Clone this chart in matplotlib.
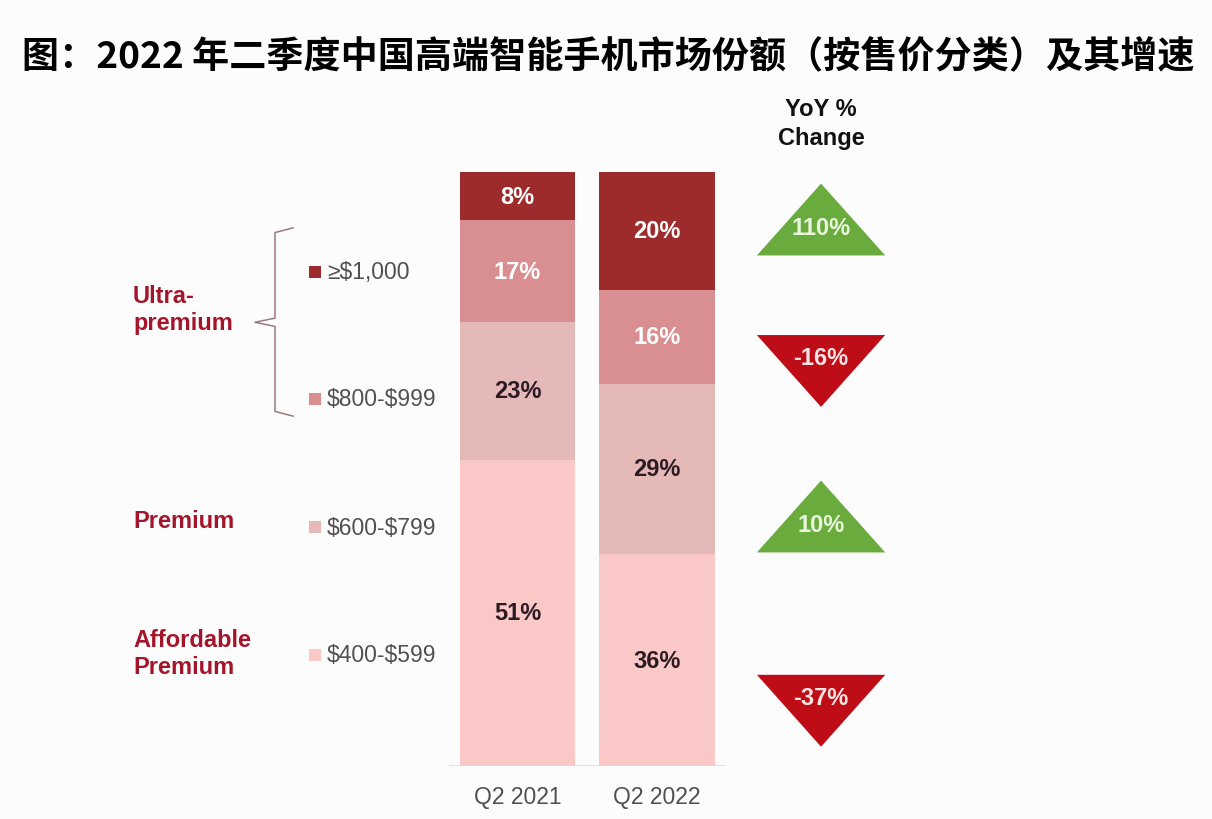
import numpy as np
import matplotlib
matplotlib.use("Agg")
import matplotlib.pyplot as plt
from matplotlib.patches import Polygon

plt.rcParams['font.family'] = ['Liberation Sans', 'Noto Sans CJK SC', 'DejaVu Sans']
plt.rcParams['text.parse_math'] = False

# -------------------------------
# 数据
# -------------------------------
title = "图：2022 年二季度中国高端智能手机市场份额（按售价分类）及其增速"
periods = ["Q2 2021", "Q2 2022"]
price_bands = ["$400-$599", "$600-$799", "$800-$999", "≥$1,000"]   # 自下而上
share_2021 = [51, 23, 17, 8]
share_2022 = [36, 29, 16, 20]
yoy_change = [-37, 10, -16, 110]   # 与 price_bands 顺序一致
groups = ["Affordable\nPremium", "Premium", "Ultra-\npremium"]

band_colors = ["#f9c8c7", "#e6b9b9", "#d98f91", "#9e2b2c"]
label_colors = ["#2b1a22", "#2b1a22", "white", "white"]
RED_TXT = "#a3152a"
GRAY_TXT = "#505050"
UP_COLOR = "#6aab3e"
DOWN_COLOR = "#bf0d17"

# -------------------------------
# 画布与坐标 (x: 每列 1 个单位, y: 百分比)
# -------------------------------
W, H = 1212, 820
fig = plt.figure(figsize=(W / 100, H / 100), dpi=100)
fig.patch.set_facecolor("#fcfcfd")
ax = fig.add_axes([0, (H - 767) / H, 1, 594 / H])
ax.set_facecolor("none")
px = 139.5  # 每单位 x 的像素数
ax.set_xlim(-517.5 / px, (W - 517.5) / px)
ax.set_ylim(0, 100)
for s in ax.spines.values():
    s.set_visible(False)
ax.set_yticks([])

# 堆叠柱状图 (按 100% 归一)
bar_w = 0.825
for xi, shares in enumerate([share_2021, share_2022]):
    shares = np.array(shares, dtype=float)
    norm = shares / shares.sum() * 100
    bottom = 0.0
    for k, (v, h) in enumerate(zip(shares, norm)):
        ax.bar(xi, h, bottom=bottom, width=bar_w, color=band_colors[k],
               edgecolor="none")
        ax.text(xi, bottom + h / 2, f"{int(v)}%", ha="center", va="center",
                fontsize=17, fontweight="bold", color=label_colors[k])
        bottom += h

ax.axhline(0, xmin=450 / W, xmax=725 / W, color="#dcdcdc", lw=1.2)
ax.set_xticks(range(len(periods)))
ax.set_xticklabels(periods, fontsize=16.5, color=GRAY_TXT)
ax.tick_params(axis="x", length=0, pad=14)

# 同比变化三角形
tri_x = 2.176
tri_hw = 0.46
tri_h = 12.1
tri_y = [9.3, 42.0, 66.5, 92.0]
for yc, v in zip(tri_y, yoy_change):
    if v >= 0:
        pts = [(tri_x - tri_hw, yc - tri_h / 2), (tri_x + tri_hw, yc - tri_h / 2),
               (tri_x, yc + tri_h / 2)]
        col, tcol, ty = UP_COLOR, "#eaf6dc", yc - 1.3
    else:
        pts = [(tri_x - tri_hw, yc + tri_h / 2), (tri_x + tri_hw, yc + tri_h / 2),
               (tri_x, yc - tri_h / 2)]
        col, tcol, ty = DOWN_COLOR, "#f8e4e4", yc + 2.3
    ax.add_patch(Polygon(pts, closed=True, facecolor=col, edgecolor="none",
                         clip_on=False))
    ax.text(tri_x, ty, f"{v}%", ha="center", va="center", fontsize=17,
            fontweight="bold", color=tcol)

ax.text(tri_x, 108.3, "YoY %\nChange", ha="center", va="center", fontsize=17,
        fontweight="bold", color="#111111", linespacing=1.35, clip_on=False)

# 图例 (色块 + 价格段)
leg_y = [18.7, 40.2, 61.8, 83.2]
leg_x = (315 - 517.5) / px
for yc, name, col in zip(leg_y, price_bands, band_colors):
    ax.scatter(leg_x, yc, marker="s", s=70, color=col, edgecolors="none",
               clip_on=False)
    ax.text(leg_x + 0.085, yc, name, ha="left", va="center", fontsize=16.5,
            color=GRAY_TXT)

# 分组标签
grp_x = (133 - 517.5) / px
for yc, g in zip([19.0, 41.4, 76.9], groups):
    ax.text(grp_x, yc, g, ha="left", va="center", fontsize=17,
            fontweight="bold", color=RED_TXT, linespacing=1.2)

# 大括号
bx = (275 - 517.5) / px
bt = (293 - 517.5) / px
bm = (255 - 517.5) / px
ax.plot([bt, bx, bx, bm, bx, bx, bt],
        [90.6, 89.8, 75.4, 74.7, 74.0, 59.7, 58.9],
        color="#9a7a7a", lw=1.1, clip_on=False)

fig.text(0.502, (H - 58) / H, title, ha="center", va="center",
         fontsize=26.7, fontweight="bold", color="black",
         family=['Noto Sans CJK SC', 'DejaVu Sans'])

fig.savefig("out.png", dpi=100, facecolor=fig.get_facecolor())
